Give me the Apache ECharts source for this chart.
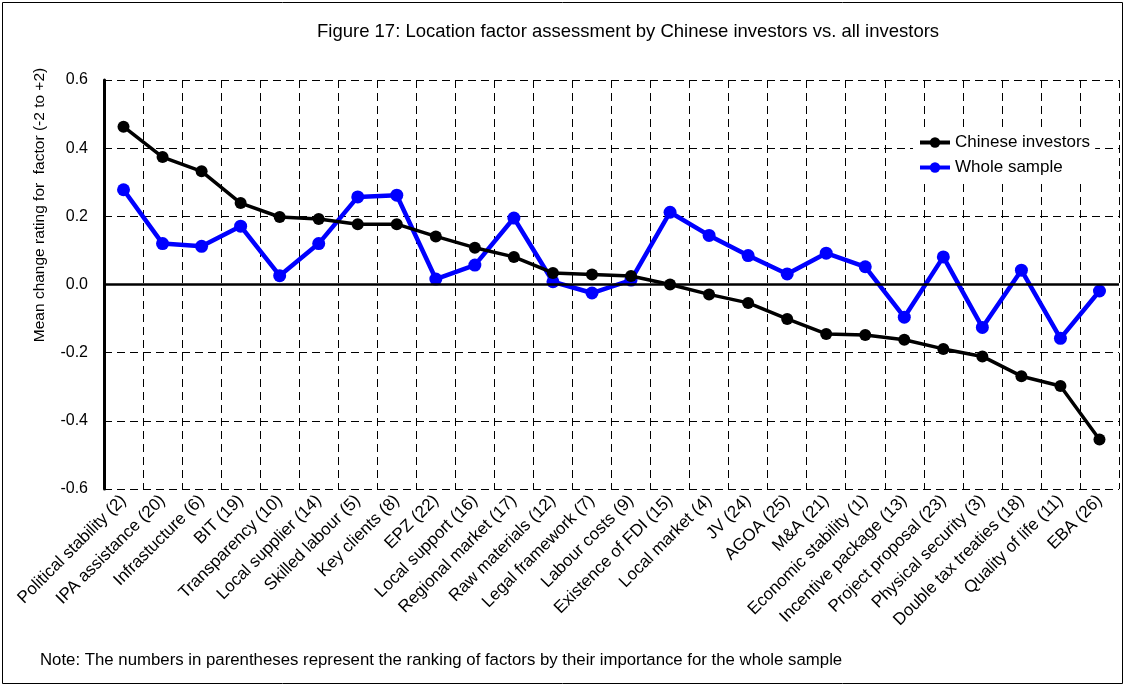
<!DOCTYPE html>
<html>
<head>
<meta charset="utf-8">
<script src="https://cdn.jsdelivr.net/npm/echarts@6/dist/echarts.min.js"></script>
<style>html,body{margin:0;padding:0;background:#fff}#c{width:1125px;height:686px}</style>
</head>
<body>
<div id="c"></div>
<script>
const categories = ["Political stability (2)","IPA assistance (20)","Infrastucture (6)","BIT (19)","Transparency (10)","Local supplier (14)","Skilled labour (5)","Key clients (8)","EPZ (22)","Local support (16)","Regional market (17)","Raw materials (12)","Legal framework (7)","Labour costs (9)","Existence of FDI (15)","Local market (4)","JV (24)","AGOA (25)","M&A (21)","Economic stability (1)","Incentive package (13)","Project proposal (23)","Physical security (3)","Double tax treaties (18)","Quality of life (11)","EBA (26)"];
const chineseInvestors = [0.463,0.374,0.332,0.239,0.198,0.192,0.177,0.177,0.141,0.108,0.081,0.034,0.029,0.025,0.000,-0.029,-0.054,-0.101,-0.145,-0.148,-0.162,-0.189,-0.211,-0.269,-0.298,-0.455];
const wholeSample = [0.278,0.120,0.112,0.171,0.026,0.120,0.257,0.262,0.016,0.057,0.195,0.008,-0.025,0.013,0.212,0.144,0.085,0.031,0.092,0.052,-0.096,0.081,-0.126,0.042,-0.158,-0.019];
const yTicks = [-0.6,-0.4,-0.2,0.0,0.2,0.4,0.6];

const FONT = "Liberation Sans";
const chart = echarts.init(document.getElementById('c'));
const dash = {color:'#000', width:1, type:[8,5]};
chart.setOption({
  animation:false,
  textStyle:{fontFamily:FONT},
  title:{text:"Figure 17: Location factor assessment by Chinese investors vs. all investors",
    left:312, top:17, textStyle:{fontFamily:FONT, fontSize:18.5, fontWeight:'normal', color:'#000'}},
  legend:{orient:'vertical', left:913, top:131, padding:[3,5,3,5], backgroundColor:'#fff',
    itemGap:8, itemWidth:30, itemHeight:13,
    lineStyle:{width:4},
    textStyle:{fontFamily:FONT, fontSize:17, color:'#000'},
    data:['Chinese investors','Whole sample']},
  grid:{left:104, right:6, top:80, bottom:197, containLabel:false},
  xAxis:{type:'category', data:categories, boundaryGap:true,
    axisLine:{show:false}, axisTick:{show:false},
    splitLine:{show:true, lineStyle:dash},
    axisLabel:{rotate:45, fontSize:17, color:'#000', fontFamily:FONT, margin:9, interval:0}},
  yAxis:{type:'value', min:-0.6, max:0.6, interval:0.2,
    axisLine:{show:true, lineStyle:{color:'#000', width:3}},
    axisTick:{show:false},
    splitLine:{show:true, lineStyle:dash},
    axisLabel:{fontSize:16, color:'#000', fontFamily:FONT, margin:16, formatter:v=>v.toFixed(1)}},
  series:[
    {name:'Chinese investors', type:'line', data:chineseInvestors, color:'#000',
      symbol:'circle', symbolSize:12, lineStyle:{width:3.5, color:'#000'}, itemStyle:{color:'#000'}, z:3,
      markLine:{silent:true, symbol:'none', label:{show:false},
        lineStyle:{color:'#000', width:2.5, type:'solid'}, data:[{yAxis:0}]}},
    {name:'Whole sample', type:'line', data:wholeSample, color:'#0000ff',
      symbol:'circle', symbolSize:13, lineStyle:{width:4.5, color:'#0000ff'}, itemStyle:{color:'#0000ff'}, z:2}
  ],
  graphic:[
    {type:'text', x:40, y:205, rotation:Math.PI/2,
      style:{text:'Mean change rating for  factor (-2 to +2)', fontFamily:FONT, fontSize:15.5, fill:'#000',
        align:'center', verticalAlign:'middle'}},
    {type:'text', left:40, top:652,
      style:{text:'Note: The numbers in parentheses represent the ranking of factors by their importance for the whole sample',
        fontFamily:FONT, fontSize:16.8, fill:'#000'}},
    {type:'rect', shape:{x:2.5, y:2.5, width:1120, height:681}, style:{fill:'none', stroke:'#000', lineWidth:1}, silent:true}
  ]
});
</script>
</body>
</html>
